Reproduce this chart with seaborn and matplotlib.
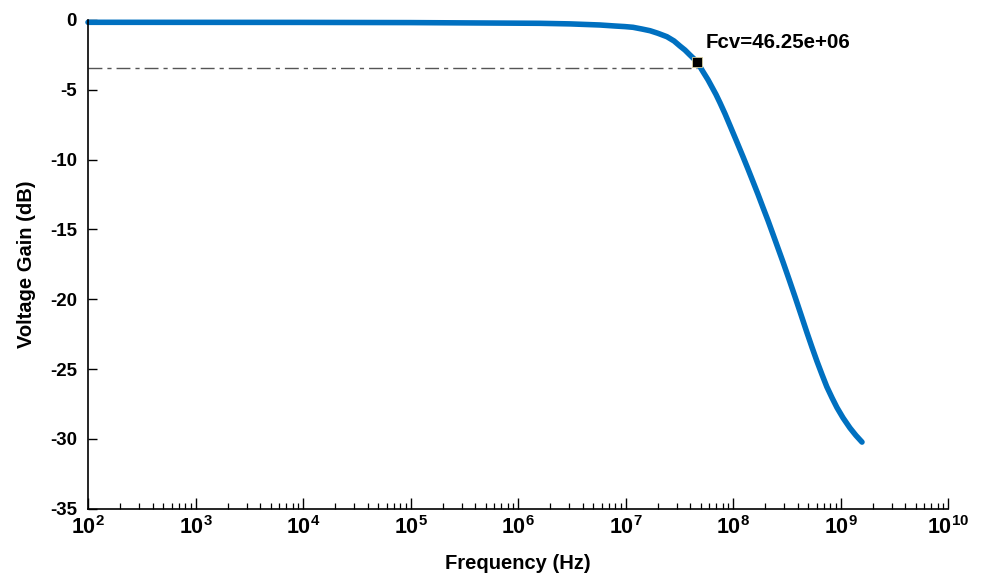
import numpy as np
import pandas as pd
import matplotlib
matplotlib.use("Agg")
import matplotlib.pyplot as plt
import seaborn as sns
from matplotlib.ticker import LogLocator, FixedLocator, FuncFormatter, NullFormatter

# ---- data ----
freq_hz = [1.0e2, 9.38e3, 1.0e5, 1.60e6, 3.05e6, 5.79e6, 7.98e6, 9.89e6, 1.175e7,
           1.42e7, 1.69e7, 2.005e7, 2.43e7, 2.83e7, 3.21e7, 3.57e7, 3.98e7,
           4.625e7, 5.26e7, 5.85e7, 6.52e7, 6.95e7, 7.57e7, 8.43e7, 9.38e7,
           1.067e8, 1.24e8, 1.38e8, 1.535e8, 1.71e8, 1.90e8, 2.12e8, 2.355e8,
           2.62e8, 2.92e8, 3.32e8, 3.78e8, 4.30e8, 4.88e8, 5.43e8, 6.04e8,
           6.73e8, 7.46e8, 8.34e8, 9.27e8, 1.055e9, 1.225e9, 1.393e9, 1.585e9]
gain_db = [-0.165, -0.172, -0.186, -0.237, -0.279, -0.358, -0.430, -0.473, -0.523,
           -0.645, -0.767, -0.953, -1.197, -1.504, -1.864, -2.149, -2.509,
           -2.99, -3.704, -4.277, -4.943, -5.337, -5.931, -6.719, -7.564,
           -8.589, -9.799, -10.681, -11.576, -12.493, -13.424, -14.377, -15.344,
           -16.332, -17.335, -18.567, -19.835, -21.125, -22.4, -23.438, -24.441,
           -25.394, -26.268, -27.056, -27.758, -28.489, -29.22, -29.756, -30.229]
fcv = 46.25e6
fcv_gain = -2.99
ref_level = -3.42
fcv_label = "Fcv=46.25e+06"
xtick_exponents = [2, 3, 4, 5, 6, 7, 8, 9, 10]
ytick_values = [0, -5, -10, -15, -20, -25, -30, -35]
ytick_labels = ["0", "-5", "-10", "-15", "-20", "-25", "-30", "-35"]
x_label = "Frequency (Hz)"
y_label = "Voltage Gain (dB)"

sns.set_style("ticks")
plt.rcParams["font.family"] = ["Liberation Sans", "DejaVu Sans"]
plt.rcParams["font.weight"] = "bold"
plt.rcParams["mathtext.fontset"] = "custom"
plt.rcParams["mathtext.rm"] = "Liberation Sans:bold"
plt.rcParams["mathtext.bf"] = "Liberation Sans:bold"
plt.rcParams["mathtext.it"] = "Liberation Sans:bold"
plt.rcParams["mathtext.default"] = "rm"
for key in ("text.color", "axes.labelcolor", "xtick.color", "ytick.color",
            "axes.edgecolor"):
    plt.rcParams[key] = "black"

fig = plt.figure(figsize=(9.88, 5.75), dpi=100)
ax = fig.add_axes([88 / 988, 1 - 508.7 / 575, 860 / 988, 488.7 / 575])

df = pd.DataFrame({"freq": freq_hz, "gain": gain_db})
sns.lineplot(data=df, x="freq", y="gain", ax=ax, color="#0070C0", linewidth=4,
             estimator=None, sort=False, solid_capstyle="round",
             solid_joinstyle="round", clip_on=False)

ax.set_xscale("log")
ax.set_xlim(1e2, 1e10)
ax.set_ylim(-35, 0)

# reference dash-dot line and marker
ax.plot([1e2, fcv], [ref_level, ref_level], color="#555555", linewidth=1.0,
        dashes=(10, 3.6, 3, 3.6), zorder=1)
ax.plot([fcv], [fcv_gain], marker="s", markersize=6.5, color="black",
        markeredgecolor="#d8d0a0", markeredgewidth=0.6, clip_on=False, zorder=5)
ax.annotate(fcv_label, xy=(fcv, fcv_gain), xytext=(6, 10), textcoords="offset points",
            va="baseline", ha="left", fontsize=14.8, fontweight="bold", color="black")

# ticks
ax.xaxis.set_major_locator(FixedLocator([10.0 ** e for e in xtick_exponents]))
ax.xaxis.set_major_formatter(FuncFormatter(
    lambda v, p: r"$10^{%d}$" % int(round(np.log10(v)))))
ax.xaxis.set_minor_locator(LogLocator(base=10, subs=np.arange(2, 10), numticks=100))
ax.xaxis.set_minor_formatter(NullFormatter())
ax.set_yticks(ytick_values)
ax.set_yticklabels(ytick_labels)

ax.tick_params(axis="x", which="major", direction="in", length=7.6, width=1.0,
               labelsize=15.5, pad=5, colors="black")
ax.tick_params(axis="x", which="minor", direction="in", length=4, width=0.9,
               colors="black")
ax.tick_params(axis="y", which="major", direction="in", length=6.5, width=1.0,
               labelsize=13.5, pad=8, colors="black")
for lab in ax.get_xticklabels() + ax.get_yticklabels():
    lab.set_fontweight("bold")

sns.despine(ax=ax)
for s in ("left", "bottom"):
    ax.spines[s].set_linewidth(1.2)
    ax.spines[s].set_color("black")

ax.set_xlabel(x_label, fontsize=14.5, fontweight="bold", labelpad=11, color="black")
ax.set_ylabel(y_label, fontsize=14.5, fontweight="bold", labelpad=10, color="black")

fig.savefig("out.png", dpi=100)
